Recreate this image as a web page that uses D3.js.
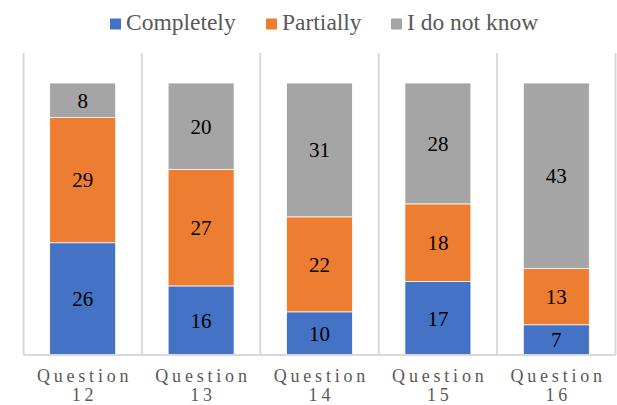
<!DOCTYPE html>
<html>
<head>
<meta charset="utf-8">
<script src="https://cdn.jsdelivr.net/npm/d3@7"></script>
</head>
<body style="margin:0;background:#fff">
<svg id="chart" width="617" height="405" style="display:block"></svg>
<script>
// Answers per question, stacked to 100%
const categories = ["Question 12", "Question 13", "Question 14", "Question 15", "Question 16"];
const seriesNames = ["Completely", "Partially", "I do not know"];
const completely = [26, 16, 10, 17, 7];
const partially = [29, 27, 22, 18, 13];
const doNotKnow = [8, 20, 31, 28, 43];
const colors = ["#4472c4", "#ed7d31", "#a5a5a5"];

const rows = categories.map((c, i) => ({
  category: c,
  "Completely": completely[i],
  "Partially": partially[i],
  "I do not know": doNotKnow[i]
}));

const labelFont = "Liberation Serif";
const svg = d3.select("#chart").style("font-family", labelFont);
const plotLeft = 23.5, plotRight = 615.5, plotTop = 83, plotBottom = 355, gridTop = 53;

const x = d3.scaleBand()
  .domain(categories)
  .range([plotLeft, plotRight])
  .paddingInner(0.443)
  .paddingOuter(0.2215);

const y = d3.scaleLinear().domain([0, 1]).range([plotBottom, plotTop]);

const stack = d3.stack().keys(seriesNames).offset(d3.stackOffsetExpand);
const layers = stack(rows);

// vertical gridlines at category boundaries
const step = x.step();
const bounds = d3.range(categories.length + 1).map(i => plotLeft + i * step);
svg.append("g").selectAll("line").data(bounds).join("line")
  .attr("x1", d => d).attr("x2", d => d)
  .attr("y1", gridTop).attr("y2", plotBottom)
  .attr("stroke", "#d9d9d9").attr("stroke-width", 2);

// stacked bars with value labels
const g = svg.append("g");
layers.forEach((layer, li) => {
  g.append("g").selectAll("rect").data(layer).join("rect")
    .attr("x", d => x(d.data.category))
    .attr("width", x.bandwidth())
    .attr("y", d => y(d[1]))
    .attr("height", d => y(d[0]) - y(d[1]))
    .attr("fill", colors[li])
    .attr("stroke", "#ffffff")
    .attr("stroke-width", 0.75);

  g.append("g").selectAll("text").data(layer).join("text")
    .attr("x", d => x(d.data.category) + x.bandwidth() / 2)
    .attr("y", d => (y(d[0]) + y(d[1])) / 2)
    .attr("dy", "0.35em")
    .attr("text-anchor", "middle")
    .style("font-family", labelFont)
    .attr("font-size", 21)
    .attr("fill", "#000")
    .text(d => d.data[layer.key]);
});

// bottom axis line
svg.append("line")
  .attr("x1", plotLeft).attr("x2", plotRight)
  .attr("y1", plotBottom).attr("y2", plotBottom)
  .attr("stroke", "#d9d9d9").attr("stroke-width", 2);

// category labels, wrapped onto two lines
const lab = svg.append("g").selectAll("text").data(categories).join("text")
  .attr("text-anchor", "middle")
  .style("font-family", labelFont)
  .attr("font-size", 18)
  .attr("fill", "#595959")
  .attr("letter-spacing", 3.8);
lab.each(function(d) {
  const parts = d.split(" ");
  const t = d3.select(this);
  const cx = x(d) + x.bandwidth() / 2 + 1.9;
  parts.forEach((p, i) => {
    t.append("tspan").attr("x", cx).attr("y", 382 + i * 19).text(p);
  });
});

// legend
const legendItems = [
  { name: seriesNames[0], sx: 110 },
  { name: seriesNames[1], sx: 266 },
  { name: seriesNames[2], sx: 391 }
];
const lg = svg.append("g");
legendItems.forEach((it, i) => {
  lg.append("rect")
    .attr("x", it.sx).attr("y", 18.5)
    .attr("width", 11).attr("height", 11)
    .attr("fill", colors[i]);
  lg.append("text")
    .attr("x", it.sx + 16).attr("y", 30)
    .style("font-family", labelFont)
    .attr("font-size", 23.5)
    .attr("fill", "#595959")
    .text(it.name);
});
</script>
</body>
</html>
